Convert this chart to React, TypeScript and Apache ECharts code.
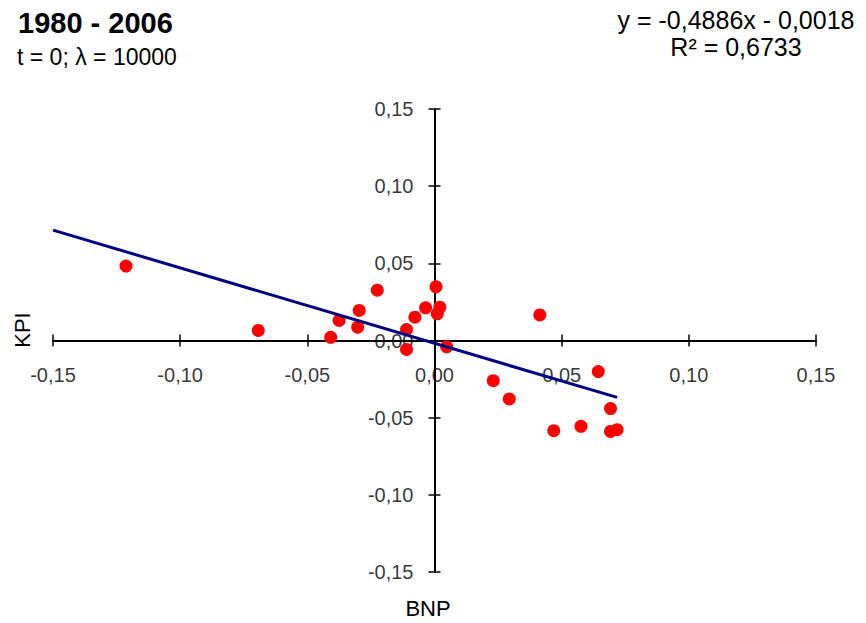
import React, { useEffect, useRef } from "react";
import * as echarts from "echarts";

const bnp: number[] = [
  -0.1213, -0.0693, -0.0408, -0.0375, -0.0302, -0.0296, -0.0225, -0.011, -0.011,
  -0.0077, -0.0035, 0.0006, 0.0021, 0.0011, 0.0048, 0.0414, 0.0231, 0.0294,
  0.0644, 0.0692, 0.0469, 0.0576, 0.0692, 0.0718,
];
const kpi: number[] = [
  0.0482, 0.0065, 0.0021, 0.013, 0.0086, 0.0195, 0.0326, 0.0071, -0.0058,
  0.0151, 0.0212, 0.0348, 0.0216, 0.0173, -0.0041, 0.0166, -0.026, -0.0379,
  -0.0201, -0.0441, -0.0584, -0.0556, -0.0589, -0.0578,
];
const slope = -0.4886;
const intercept = -0.0018;
const trendX: number[] = [-0.15, 0.0718];
const axisMin = -0.15;
const axisMax = 0.15;
const axisStep = 0.05;
const tickValues: number[] = [-0.15, -0.1, -0.05, 0, 0.05, 0.1, 0.15];

const title = "1980 - 2006";
const subtitle = "t = 0; λ = 10000";
const eqLine1 = "y = -0,4886x - 0,0018";
const eqLine2 = "R² = 0,6733";

const fmt = (v: number) => {
  if (Math.abs(v) < 1e-9) return "0,00";
  return v.toFixed(2).replace(".", ",");
};

const FONT = "Liberation Sans, Arial, sans-serif";

export default function App() {
  const ref = useRef<HTMLDivElement>(null);
  useEffect(() => {
    if (!ref.current) return;
    const chart = echarts.init(ref.current, undefined, { renderer: "svg" });
    const scatter = bnp.map((x, i) => [x, kpi[i]]);
    const trend = trendX.map((x) => [x, slope * x + intercept]);
    const baseAxis = {
      type: "value" as const,
      min: axisMin,
      max: axisMax,
      interval: axisStep,
      splitLine: { show: false },
      axisLabel: { show: false },
    };
    const tickStyle = { show: true, inside: false, length: 6, lineStyle: { color: "#000", width: 1.5 } };
    const labelText = {
      color: "#000",
      fontSize: 20,
      fontFamily: FONT,
    };
    chart.setOption({
      animation: false,
      backgroundColor: "#ffffff",
      grid: {
        left: 53,
        right: 50,
        top: 109,
        bottom: 51,
        containLabel: false,
        outerBoundsMode: "none",
      },
      xAxis: [
        {
          ...baseAxis,
          position: "bottom",
          axisLine: { show: true, onZero: true, onZeroAxisIndex: 0, lineStyle: { color: "#000", width: 2 } },
          axisTick: tickStyle,
        },
        {
          ...baseAxis,
          position: "top",
          axisLine: { show: false, onZero: true, onZeroAxisIndex: 1 },
          axisTick: tickStyle,
        },
      ],
      yAxis: [
        {
          ...baseAxis,
          position: "left",
          axisLine: { show: true, onZero: true, onZeroAxisIndex: 0, lineStyle: { color: "#000", width: 2 } },
          axisTick: tickStyle,
        },
        {
          ...baseAxis,
          position: "right",
          axisLine: { show: false, onZero: true, onZeroAxisIndex: 1 },
          axisTick: tickStyle,
        },
      ],
      series: [
        {
          type: "line",
          xAxisIndex: 0,
          yAxisIndex: 0,
          data: trend,
          symbol: "none",
          lineStyle: { color: "#000080", width: 3 },
          z: 3,
        },
        {
          type: "scatter",
          xAxisIndex: 0,
          yAxisIndex: 0,
          data: scatter,
          symbol: "circle",
          symbolSize: 13,
          itemStyle: { color: "#ff0000", opacity: 1 },
          z: 2,
        },
        {
          type: "scatter",
          name: "xTickLabels",
          xAxisIndex: 0,
          yAxisIndex: 0,
          data: tickValues.map((v) => [v, 0]),
          symbolSize: 0,
          silent: true,
          z: 1,
          label: {
            show: true,
            position: "bottom",
            distance: 24,
            formatter: (p: any) => fmt(p.value[0]),
            ...labelText,
          },
        },
        {
          type: "scatter",
          name: "yTickLabels",
          xAxisIndex: 0,
          yAxisIndex: 0,
          data: tickValues.map((v) => [0, v]),
          symbolSize: 0,
          silent: true,
          z: 1,
          label: {
            show: true,
            position: "left",
            distance: 21,
            formatter: (p: any) => fmt(p.value[1]),
            ...labelText,
          },
        },
      ],
      graphic: [
        {
          type: "text",
          left: 18,
          top: 8,
          style: { text: title, font: `bold 29px ${FONT}`, fill: "#000" },
        },
        {
          type: "text",
          left: 17,
          top: 45,
          style: { text: subtitle, font: `23px ${FONT}`, fill: "#000" },
        },
        {
          type: "text",
          x: 736,
          y: 20,
          style: {
            text: eqLine1,
            font: `25px ${FONT}`,
            fill: "#000",
            align: "center",
            verticalAlign: "middle",
          },
        },
        {
          type: "text",
          x: 736,
          y: 47,
          style: {
            text: eqLine2,
            font: `25px ${FONT}`,
            fill: "#000",
            align: "center",
            verticalAlign: "middle",
          },
        },
        {
          type: "text",
          x: 22,
          y: 330,
          rotation: Math.PI / 2,
          style: {
            text: "KPI",
            font: `22px ${FONT}`,
            fill: "#000",
            align: "center",
            verticalAlign: "middle",
          },
        },
        {
          type: "text",
          x: 428,
          y: 608,
          style: {
            text: "BNP",
            font: `22px ${FONT}`,
            fill: "#000",
            align: "center",
            verticalAlign: "middle",
          },
        },
      ],
    });
    return () => chart.dispose();
  }, []);
  return (
    <div
      ref={ref}
      style={{ position: "fixed", left: 0, top: 0, width: 866, height: 623 }}
    />
  );
}
